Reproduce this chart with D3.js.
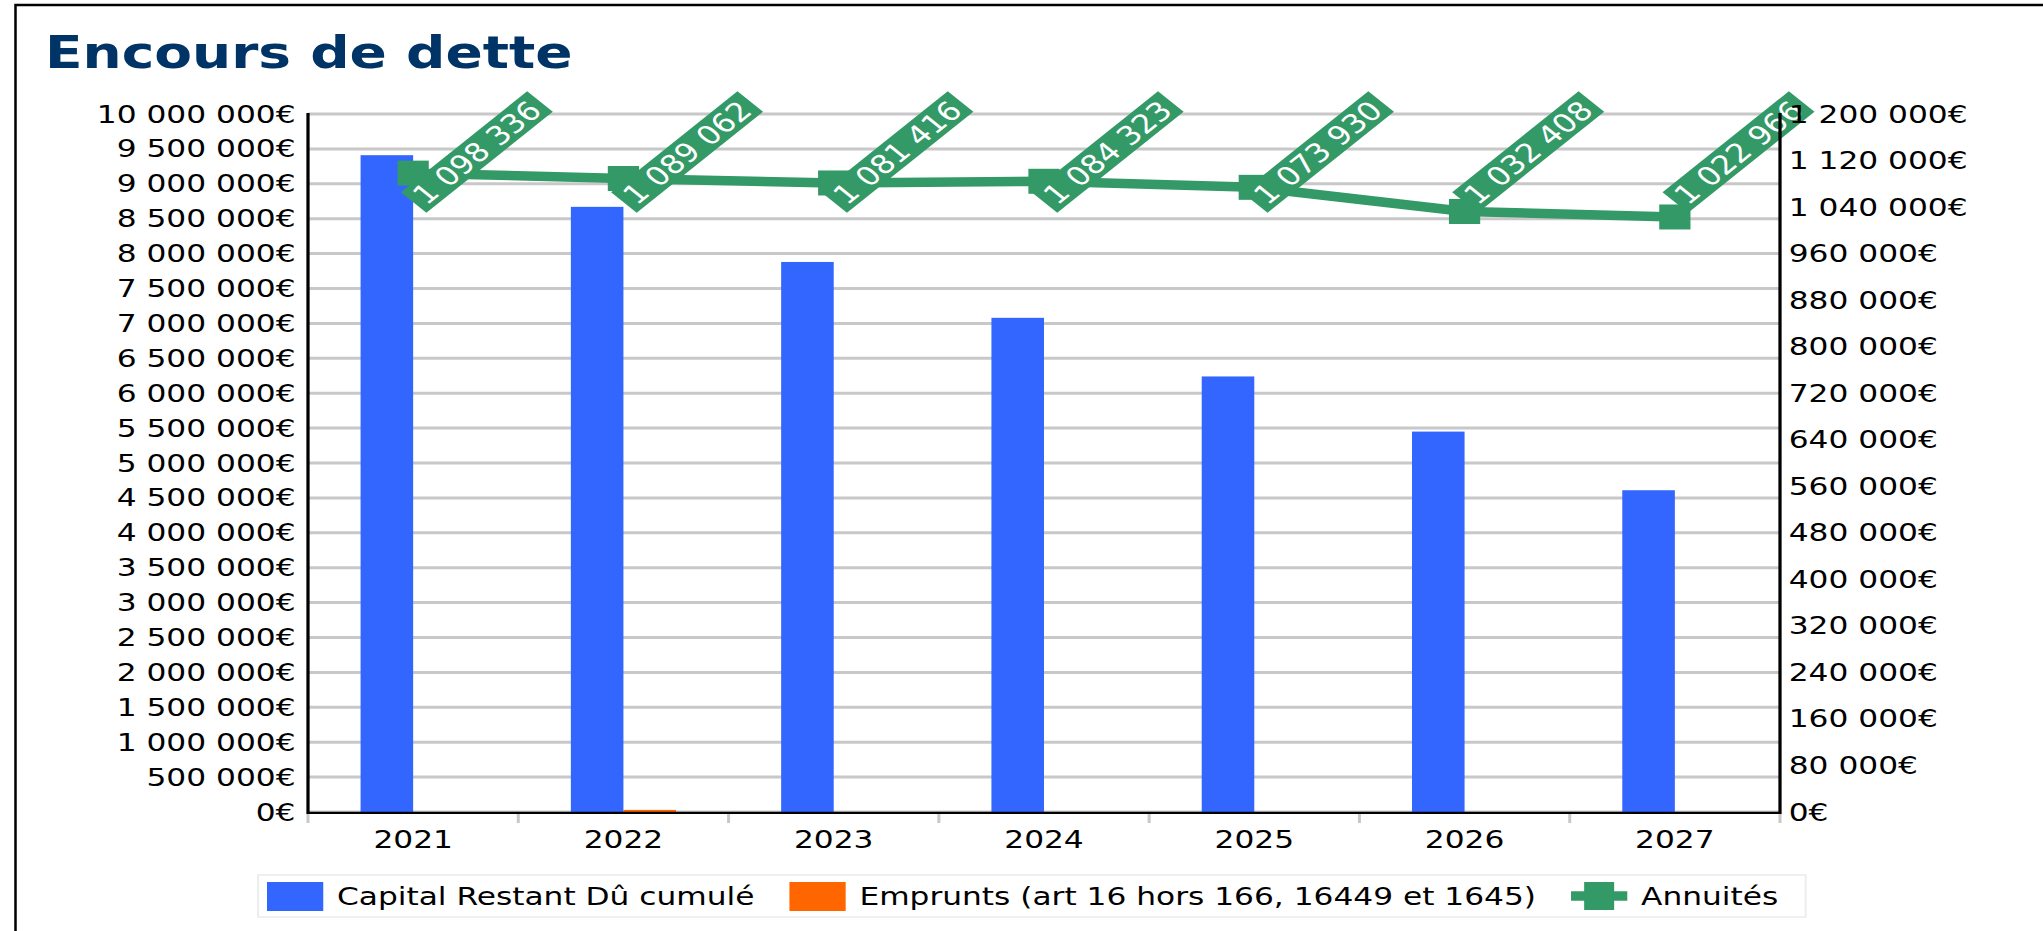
<!DOCTYPE html>
<html><head><meta charset="utf-8">
<script src="https://cdn.jsdelivr.net/npm/d3@7"></script>
<style>html,body{margin:0;padding:0;background:#fff;overflow:hidden}</style>
</head><body>
<svg id="c" width="2043" height="931"></svg>
<script>
const years = ["2021", "2022", "2023", "2024", "2025", "2026", "2027"];
const capital = [9410000, 8670000, 7880000, 7080000, 6240000, 5450000, 4610000];
const emprunts = [0, 30000, 0, 0, 0, 0, 0];
const annuites = [1098336, 1089062, 1081416, 1084323, 1073930, 1032408, 1022966];
const leftTicks = d3.range(0, 10000001, 500000);
const rightTicks = d3.range(0, 1200001, 80000);
const seriesNames = ["Capital Restant Dû cumulé", "Emprunts (art 16 hors 166, 16449 et 1645)", "Annuités"];
const colors = ["#3366ff", "#ff6600", "#339966"];
const title = "Encours de dette";

const S = 1.25; // horizontal stretch of the original rendering
const FONT = "DejaVu Sans";
const svg = d3.select("#c");
svg.append("rect").attr("width", 2043).attr("height", 931).attr("fill", "#fff");
svg.append("rect").attr("x", 15.5).attr("y", 5).attr("width", 2100).attr("height", 1000)
  .attr("fill", "none").attr("stroke", "#000").attr("stroke-width", 2.5);

const g = svg.append("g").attr("transform", `scale(${S},1)`);
const L = 308 / S, R = 1780 / S, T = 114, B = 812;

const loc = d3.formatLocale({decimal: ",", thousands: " ", grouping: [3], currency: ["", "€"]});
const fmt = loc.format(",.0f");
const fmtE = v => fmt(v) + "€";

g.append("text").attr("x", 36).attr("y", 68).text(title)
  .attr("font-family", FONT).attr("font-weight", "bold").attr("font-size", 44).attr("fill", "#003366");

const x = d3.scaleBand().domain(years).range([L, R]).paddingInner(0).paddingOuter(0);
const xs = d3.scaleBand().domain(["cap", "emp"]).range([0, x.bandwidth()]).paddingInner(0).paddingOuter(1);
const yL = d3.scaleLinear().domain([0, 10000000]).range([B, T]);
const yR = d3.scaleLinear().domain([0, 1200000]).range([B, T]);

// gridlines
g.append("g").selectAll("line").data(leftTicks).join("line")
  .attr("x1", L).attr("x2", R).attr("y1", d => yL(d)).attr("y2", d => yL(d))
  .attr("stroke", "#c8c8c8").attr("stroke-width", 3);

// bars
const bars = g.append("g");
bars.selectAll("rect.cap").data(years).join("rect").attr("class", "cap")
  .attr("x", d => x(d) + xs("cap")).attr("width", xs.bandwidth())
  .attr("y", (d, i) => yL(capital[i])).attr("height", (d, i) => B - yL(capital[i]))
  .attr("fill", colors[0]);
bars.selectAll("rect.emp").data(years).join("rect").attr("class", "emp")
  .attr("x", d => x(d) + xs("emp")).attr("width", xs.bandwidth())
  .attr("y", (d, i) => yL(emprunts[i])).attr("height", (d, i) => B - yL(emprunts[i]))
  .attr("fill", colors[1]);

// x axis line + ticks
g.append("g").selectAll("line").data(years.concat(["end"])).join("line")
  .attr("x1", (d, i) => L + i * x.step()).attr("x2", (d, i) => L + i * x.step())
  .attr("y1", B).attr("y2", B + 11).attr("stroke", "#c8c8c8").attr("stroke-width", 2.4);
g.append("line").attr("x1", L).attr("x2", R).attr("y1", B + 0.9).attr("y2", B + 0.9).attr("stroke", "#000").attr("stroke-width", 2.4);

// line series
const cx = d => x(d) + x.bandwidth() / 2;
const line = d3.line().x((d, i) => cx(years[i])).y(d => yR(d));
g.append("path").datum(annuites).attr("d", line).attr("fill", "none")
  .attr("stroke", colors[2]).attr("stroke-width", 9.5).attr("stroke-linejoin", "miter");
g.append("g").selectAll("rect").data(annuites).join("rect")
  .attr("x", (d, i) => cx(years[i]) - 12.5).attr("y", d => yR(d) - 12.5)
  .attr("width", 25).attr("height", 25).attr("fill", colors[2]);

// data labels (placed in a band at the top of the plot area)
const labelY = T + 58.5;
const lab = g.append("g").selectAll("g").data(annuites).join("g")
  .attr("transform", (d, i) => `translate(${cx(years[i])},${labelY}) rotate(-45)`);
lab.append("rect").attr("x", -21).attr("y", 7).attr("width", 143).attr("height", 29).attr("fill", colors[2]);
lab.append("text").attr("x", -16).attr("y", 31).text(d => fmt(d))
  .attr("font-family", FONT).attr("font-size", 26).attr("fill", "#fff");

// axes
g.append("line").attr("x1", L).attr("x2", L).attr("y1", T - 1).attr("y2", B + 2).attr("stroke", "#000").attr("stroke-width", 2.6);
g.append("line").attr("x1", R).attr("x2", R).attr("y1", T - 1).attr("y2", B + 2).attr("stroke", "#000").attr("stroke-width", 2.6);

const axL = g.append("g").attr("transform", `translate(${L},0)`)
  .call(d3.axisLeft(yL).tickValues(leftTicks).tickSize(0).tickPadding(10).tickFormat(fmtE));
const axR = g.append("g").attr("transform", `translate(${R},0)`)
  .call(d3.axisRight(yR).tickValues(rightTicks).tickSize(0).tickPadding(7).tickFormat(fmtE));
const axB = g.append("g").attr("transform", `translate(0,${B})`)
  .call(d3.axisBottom(x).tickSize(0).tickPadding(18));
[axL, axR, axB].forEach(a => {
  a.select(".domain").remove();
  a.selectAll("text").attr("font-family", FONT).attr("font-size", 25).attr("fill", "#000");
});

// legend
const lg = g.append("g");
const ly = 896;
lg.append("rect").attr("x", 206.5).attr("y", 875).attr("width", 1238).attr("height", 42)
  .attr("fill", "#fff").attr("stroke", "#ececec").attr("stroke-width", 1.5);
let lx = 213.6;
seriesNames.forEach((name, i) => {
  if (i < 2) {
    lg.append("rect").attr("x", lx).attr("y", 882).attr("width", 45).attr("height", 29).attr("fill", colors[i]);
  } else {
    lg.append("line").attr("x1", lx).attr("x2", lx + 45).attr("y1", ly).attr("y2", ly)
      .attr("stroke", colors[2]).attr("stroke-width", 9.5);
    lg.append("rect").attr("x", lx + 22.5 - 12).attr("y", ly - 14).attr("width", 24).attr("height", 28).attr("fill", colors[2]);
  }
  const t = lg.append("text").attr("x", lx + 56).attr("y", ly + 9).text(name)
    .attr("font-family", FONT).attr("font-size", 25).attr("fill", "#000");
  lx = lx + 56 + t.node().getComputedTextLength() + 28;
});
</script>
</body></html>
